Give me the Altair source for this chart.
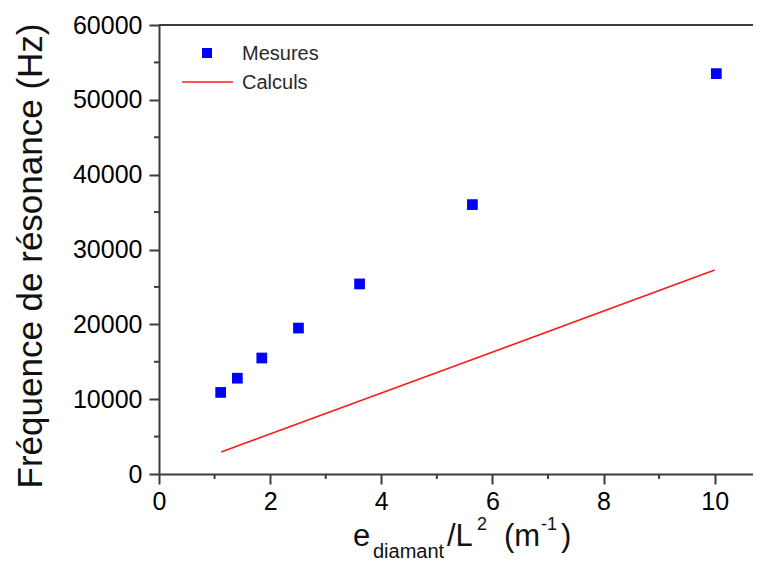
import altair as alt
import pandas as pd

# ---- data ----
mes_x = [1.11, 1.41, 1.85, 2.51, 3.61, 5.64, 10.03]
mes_y = [10900, 12800, 15500, 19500, 25400, 36000, 53500]

calc_x = [1.12, 1.41, 1.85, 2.51, 3.61, 5.64, 10.0]
calc_y = [2950, 3750, 4950, 6750, 9750, 15300, 27250]

x_major = [0, 2, 4, 6, 8, 10]
x_minor = [1, 3, 5, 7, 9]
y_major = [0, 10000, 20000, 30000, 40000, 50000, 60000]
y_minor = [5000, 15000, 25000, 35000, 45000, 55000]

legend_labels = ["Mesures", "Calculs"]

W, H = 594, 449
FONT = "Liberation Sans"
AX = "#3c3c3c"

mes = pd.DataFrame({"x": mes_x, "y": mes_y})
calc = pd.DataFrame({"x": calc_x, "y": calc_y})
xmin = pd.DataFrame({"x": x_minor})
ymin = pd.DataFrame({"y": y_minor})

xscale = alt.Scale(domain=[0, 10.69], nice=False, zero=False)
yscale = alt.Scale(domain=[0, 60000], nice=False)


def X(field="x"):
    return alt.X(f"{field}:Q", scale=xscale,
                 axis=alt.Axis(values=x_major, title=None, labelFlush=False,
                               labelOverlap=False, format="d"))


def Y(field="y"):
    return alt.Y(f"{field}:Q", scale=yscale,
                 axis=alt.Axis(values=y_major, title=None, labelOverlap=False,
                               format="d"))


points = alt.Chart(mes).mark_square(size=115, color="#0000ff", opacity=1).encode(x=X(), y=Y())
line = alt.Chart(calc).mark_line(color="#ff1a1a", strokeWidth=1.6).encode(x=X(), y=Y())

minor_x = alt.Chart(xmin).mark_rule(color=AX, strokeWidth=2).encode(
    x=X(), y=alt.value(H), y2=alt.value(H + 5))
minor_y = alt.Chart(ymin).mark_rule(color=AX, strokeWidth=2).encode(
    y=Y(), x=alt.value(-5), x2=alt.value(0))

dummy = alt.Data(values=[{"a": 1}])
top_border = alt.Chart(dummy).mark_rule(color=AX, strokeWidth=2).encode(
    x=alt.value(0), x2=alt.value(W), y=alt.value(0))

# legend
leg_sq = alt.Chart(dummy).mark_square(size=100, color="#0000ff", opacity=1).encode(
    x=alt.value(48), y=alt.value(28))
leg_line = alt.Chart(dummy).mark_rule(color="#ff1a1a", strokeWidth=1.6).encode(
    x=alt.value(23), x2=alt.value(74), y=alt.value(57))
leg_t1 = alt.Chart(dummy).mark_text(text=legend_labels[0], font=FONT, fontSize=20,
                                    color="#2a2a2a", align="left", baseline="alphabetic").encode(
    x=alt.value(83), y=alt.value(35))
leg_t2 = alt.Chart(dummy).mark_text(text=legend_labels[1], font=FONT, fontSize=20,
                                    color="#2a2a2a", align="left", baseline="alphabetic").encode(
    x=alt.value(83), y=alt.value(64))

# y title
ytitle = alt.Chart(dummy).mark_text(text="Fréquence de résonance (Hz)", font=FONT, fontSize=35,
                                    color="#111", angle=270, align="center", baseline="middle").encode(
    x=alt.value(-128), y=alt.value(231))


def piece(txt, x, y, size):
    return alt.Chart(dummy).mark_text(text=txt, font=FONT, fontSize=size, color="#111",
                                      align="left", baseline="alphabetic").encode(
        x=alt.value(x), y=alt.value(y))


xt = [
    piece("e", 194, 521, 31),
    piece("diamant", 214, 533, 20),
    piece("/L", 288, 521, 31),
    piece("2", 318, 505, 18),
    piece("(m", 345, 521, 31),
    piece("-1", 382, 505, 18),
    piece(")", 402, 521, 31),
]

chart = alt.layer(line, points, minor_x, minor_y, top_border, leg_sq, leg_line, leg_t1, leg_t2,
                  ytitle, *xt).properties(
    width=W, height=H,
    autosize=alt.AutoSizeParams(type="none"),
    padding={"left": 151, "top": 17, "right": 0, "bottom": 90},
).configure_view(strokeWidth=0).configure_axis(
    domainColor=AX, domainWidth=2, tickColor=AX, tickWidth=2, tickSize=10,
    labelFont=FONT, labelFontSize=25, labelColor="#000", grid=False, labelPadding=7,
).configure_axisX(labelPadding=5)

chart.save("out.html", embed_options={"renderer": "svg", "actions": False})
